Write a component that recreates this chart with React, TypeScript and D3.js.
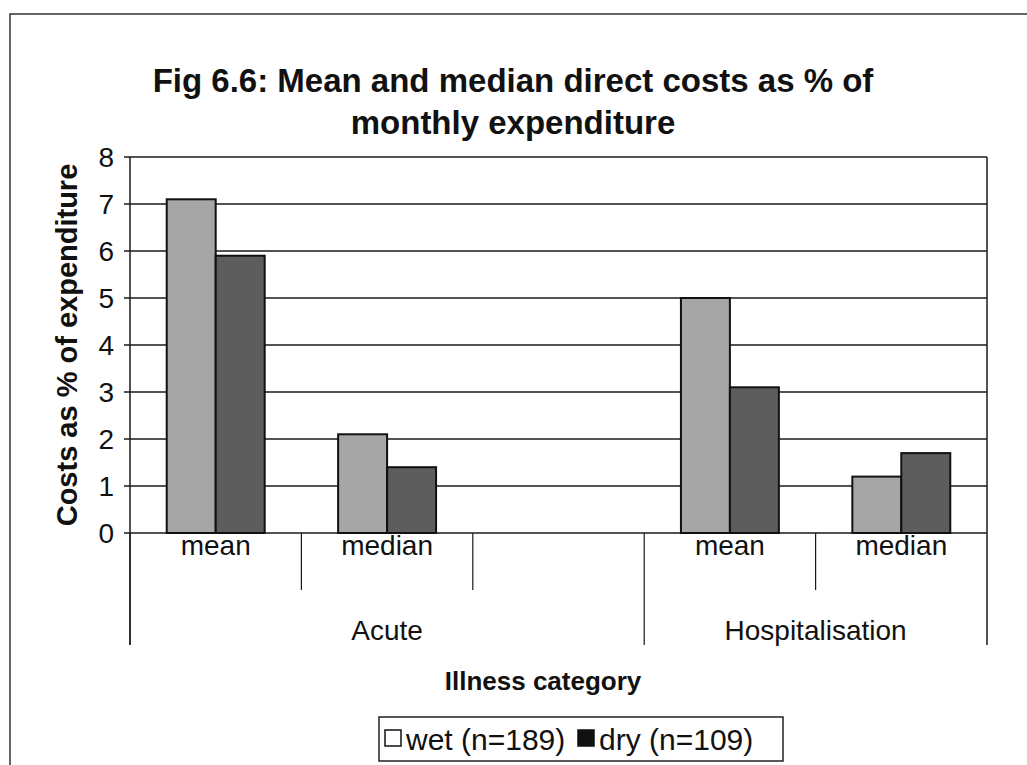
import React from "react";
import * as d3 from "d3";

// Illness categories, each split into mean / median; Acute keeps a trailing empty slot
const groups = ["Acute", "Hospitalisation"];
const slotKeys = ["Acute|mean", "Acute|median", "Acute|", "Hospitalisation|mean", "Hospitalisation|median"];
const slotLabels = ["mean", "median", "", "mean", "median"];
const barSlots = ["Acute|mean", "Acute|median", "Hospitalisation|mean", "Hospitalisation|median"];

// Direct costs as % of monthly expenditure
const wetValues = [7.1, 2.1, 5.0, 1.2];
const dryValues = [5.9, 1.4, 3.1, 1.7];

const seriesNames = ["wet (n=189)", "dry (n=109)"];
const yTicks = [0, 1, 2, 3, 4, 5, 6, 7, 8];

const W = 1027;
const H = 765;
const FONT = "'Liberation Sans', Arial, sans-serif";

export default function App() {
  const left = 130;
  const right = 987;
  const top = 157;
  const bottom = 533;

  const x = d3.scaleBand<string>().domain(slotKeys).range([left, right]).paddingInner(3 / 7).paddingOuter(1.5 / 7);
  const xs = d3.scaleBand<string>().domain(["wet", "dry"]).range([0, x.bandwidth()]);
  const y = d3.scaleLinear().domain([0, 8]).range([bottom, top]);

  const step = x.step();
  const slotStart = (k: string) => left + slotKeys.indexOf(k) * step;

  const series = [
    { key: "wet", values: wetValues, fill: "#a6a6a6" },
    { key: "dry", values: dryValues, fill: "#5d5d5d" },
  ];

  const groupSpan = (g: string) => {
    const ks = slotKeys.filter((k) => k.startsWith(g + "|"));
    const a = slotStart(ks[0]);
    const b = slotStart(ks[ks.length - 1]) + step;
    return [a, b];
  };

  const lblStyle = { fontFamily: FONT, fontSize: 28, fill: "#111" } as const;
  const legStyle = { fontFamily: FONT, fontSize: 30, fill: "#111" } as const;
  const titleStyle = { fontFamily: FONT, fontSize: 33, fontWeight: "bold", fill: "#111" } as const;

  return (
    <svg width={W} height={H} style={{ position: "absolute", left: 0, top: 0, background: "#fff" }}>
      {/* outer chart frame */}
      <path d={`M10,${H + 5} L10,14 L${W + 5},14`} fill="none" stroke="#333" strokeWidth={1.5} />

      {/* title */}
      <text x={513} y={92} textAnchor="middle" style={titleStyle}>
        Fig 6.6: Mean and median direct costs as % of
      </text>
      <text x={513} y={134} textAnchor="middle" style={titleStyle}>
        monthly expenditure
      </text>

      {/* gridlines and y ticks */}
      {yTicks.map((t) => (
        <g key={t}>
          <line x1={left - 6} x2={right} y1={y(t)} y2={y(t)} stroke="#1a1a1a" strokeWidth={1.3} />
          <text x={114} y={y(t) + 10} textAnchor="end" style={lblStyle}>
            {t}
          </text>
        </g>
      ))}
      {/* plot area sides */}
      <line x1={left} x2={left} y1={top} y2={645} stroke="#1a1a1a" strokeWidth={1.5} />
      <line x1={right} x2={right} y1={top} y2={645} stroke="#1a1a1a" strokeWidth={1.5} />

      {/* bars */}
      {series.map((s) =>
        s.values.map((v, i) => (
          <rect
            key={s.key + i}
            x={(x(barSlots[i]) as number) + (xs(s.key) as number)}
            y={y(v)}
            width={xs.bandwidth()}
            height={y(0) - y(v)}
            fill={s.fill}
            stroke="#111"
            strokeWidth={2}
          />
        ))
      )}

      {/* category axis: inner dividers and labels */}
      {slotKeys.map((k, i) => {
        const xa = slotStart(k);
        const isGroupStart = i === 0 || k.split("|")[0] !== slotKeys[i - 1].split("|")[0];
        return (
          <g key={k}>
            {!isGroupStart && <line x1={xa} x2={xa} y1={bottom} y2={590} stroke="#1a1a1a" strokeWidth={1.2} />}
            {slotLabels[i] && (
              <text x={xa + step / 2} y={555} textAnchor="middle" style={lblStyle}>
                {slotLabels[i]}
              </text>
            )}
          </g>
        );
      })}
      {groups.map((g) => {
        const [a, b] = groupSpan(g);
        return (
          <g key={g}>
            <line x1={a} x2={a} y1={bottom} y2={645} stroke="#1a1a1a" strokeWidth={1.2} />
            <text x={(a + b) / 2} y={640} textAnchor="middle" style={lblStyle}>
              {g}
            </text>
          </g>
        );
      })}

      {/* axis titles */}
      <text
        transform={`translate(77,${(top + bottom) / 2}) rotate(-90)`}
        textAnchor="middle"
        style={{ fontFamily: FONT, fontSize: 29, fontWeight: "bold", fill: "#111" }}
      >
        Costs as % of expenditure
      </text>
      <text x={543} y={690} textAnchor="middle" style={{ fontFamily: FONT, fontSize: 26, fontWeight: "bold", fill: "#111" }}>
        Illness category
      </text>

      {/* legend */}
      <g>
        <rect x={379} y={717} width={404} height={44} fill="#fff" stroke="#222" strokeWidth={1.5} />
        <rect x={385} y={730} width={16} height={16} fill="#fff" stroke="#111" strokeWidth={1.5} />
        <text x={406} y={750} style={legStyle}>
          {seriesNames[0]}
        </text>
        <rect x={578} y={730} width={16} height={16} fill="#111" stroke="#111" strokeWidth={1.5} />
        <text x={599} y={750} style={legStyle}>
          {seriesNames[1]}
        </text>
      </g>
    </svg>
  );
}
